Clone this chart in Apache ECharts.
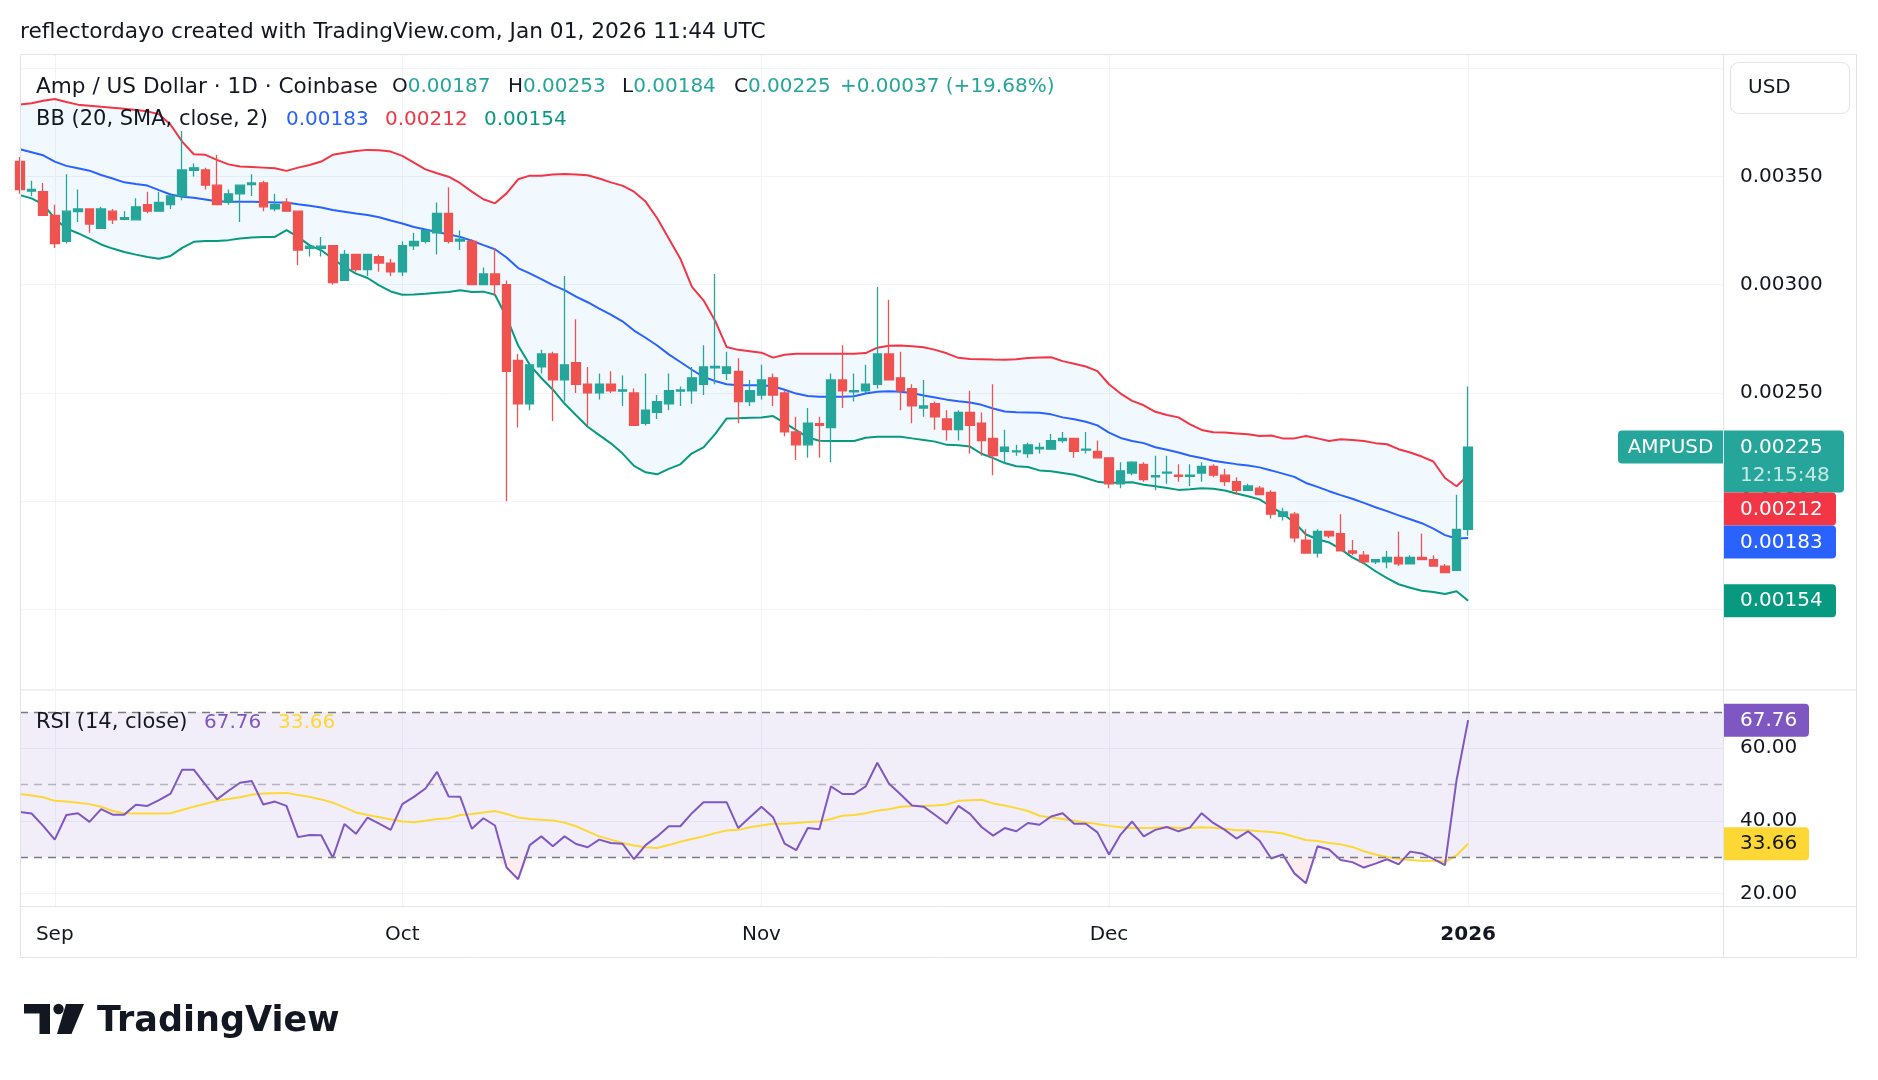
<!DOCTYPE html>
<html>
<head>
<meta charset="utf-8">
<title>AMPUSD 1D</title>
<script src="https://cdn.jsdelivr.net/npm/echarts@6/dist/echarts.min.js"></script>
<style>
  html, body { margin: 0; padding: 0; background: #fff; }
  #chart { width: 1878px; height: 1080px; }
</style>
</head>
<body>
<div id="chart"></div>
<script>
// daily bars from Aug 29 2025, axis runs a few weeks past the last bar
const firstDay = Date.UTC(2025, 7, 29)
const dayCount = 148
const dates = []
for (let i = 0; i < dayCount; i++) {
  dates.push(new Date(firstDay + i * 86400000).toISOString().slice(0, 10))
}
const monthNames = ['Jan', 'Feb', 'Mar', 'Apr', 'May', 'Jun', 'Jul', 'Aug', 'Sep', 'Oct', 'Nov', 'Dec']

// [open, close, low, high]
const candles = [
  [0.00357, 0.00344, 0.00342, 0.00359], [0.003432, 0.00344, 0.00341, 0.00348], [0.00343, 0.00332, 0.00332, 0.00347],
  [0.00332, 0.00319, 0.00317, 0.00337], [0.0032, 0.00334, 0.00319, 0.00351], [0.003338, 0.00335, 0.00329, 0.00344],
  [0.00335, 0.00328, 0.00324, 0.003352], [0.00326, 0.00335, 0.00326, 0.00336], [0.00334, 0.0033, 0.00328, 0.00335],
  [0.003302, 0.00331, 0.003298, 0.00334], [0.0033, 0.00336, 0.0033, 0.0034], [0.00337, 0.00334, 0.00333, 0.00343],
  [0.00334, 0.00338, 0.00334, 0.00343], [0.00337, 0.00341, 0.00335, 0.003412], [0.00341, 0.00353, 0.00339, 0.00371],
  [0.003528, 0.00354, 0.0035, 0.00356], [0.00353, 0.00346, 0.00344, 0.00354], [0.00346, 0.00337, 0.00337, 0.0036],
  [0.00338, 0.00342, 0.00337, 0.00344], [0.00342, 0.00346, 0.00329, 0.003462], [0.003462, 0.00347, 0.00341, 0.00351],
  [0.00347, 0.00336, 0.00334, 0.00348], [0.00335, 0.00337, 0.00334, 0.00342], [0.00338, 0.00334, 0.00334, 0.0034],
  [0.00334, 0.00316, 0.00309, 0.003342], [0.003168, 0.003178, 0.00313, 0.00318], [0.003168, 0.003178, 0.00313, 0.00322],
  [0.00318, 0.00301, 0.003, 0.003182], [0.00302, 0.00314, 0.00302, 0.00316], [0.00314, 0.00307, 0.00306, 0.003142],
  [0.00307, 0.00314, 0.00304, 0.003142], [0.00313, 0.0031, 0.00306, 0.00314], [0.0031, 0.00306, 0.00304, 0.00312],
  [0.00306, 0.00318, 0.00304, 0.0032], [0.00318, 0.0032, 0.00316, 0.00324], [0.0032, 0.00325, 0.00319, 0.003252],
  [0.00324, 0.00333, 0.00314, 0.00338], [0.00333, 0.0032, 0.00319, 0.00345], [0.003202, 0.00321, 0.00316, 0.00325],
  [0.0032, 0.003, 0.003, 0.00321], [0.003, 0.00305, 0.003, 0.00308], [0.00305, 0.003, 0.00295, 0.00317],
  [0.003, 0.0026, 0.002, 0.00302], [0.00265, 0.00245, 0.00234, 0.00268], [0.00245, 0.00263, 0.00242, 0.00264],
  [0.00262, 0.00268, 0.00259, 0.0027], [0.00268, 0.00256, 0.00237, 0.00269], [0.00256, 0.00263, 0.00246, 0.00304],
  [0.00264, 0.00254, 0.0025, 0.00284], [0.00254, 0.0025, 0.00235, 0.00262], [0.0025, 0.00254, 0.00247, 0.00259],
  [0.00254, 0.00251, 0.0025, 0.0026], [0.002508, 0.002514, 0.00244, 0.00258], [0.0025, 0.00235, 0.00235, 0.00252],
  [0.00236, 0.00242, 0.00235, 0.00259], [0.00241, 0.00246, 0.00238, 0.00249], [0.00245, 0.00251, 0.00242, 0.00259],
  [0.002508, 0.002514, 0.00244, 0.00253], [0.00251, 0.00257, 0.00245, 0.00262], [0.00254, 0.00262, 0.00249, 0.00272],
  [0.002616, 0.002622, 0.00254, 0.00305], [0.00259, 0.00262, 0.00256, 0.00269], [0.0026, 0.00246, 0.00236, 0.00266],
  [0.00246, 0.00251, 0.00244, 0.00256], [0.00249, 0.00256, 0.00247, 0.00263], [0.00257, 0.00249, 0.00244, 0.00259],
  [0.0025, 0.00232, 0.0023, 0.00251], [0.00232, 0.00226, 0.00219, 0.00239], [0.00226, 0.00236, 0.0022, 0.00243],
  [0.002358, 0.00235, 0.0022, 0.00239], [0.00234, 0.00256, 0.00218, 0.00259], [0.00256, 0.00251, 0.00243, 0.00272],
  [0.002505, 0.00251, 0.00246, 0.00259], [0.00251, 0.00254, 0.0025, 0.00263], [0.00254, 0.00268, 0.00252, 0.00299],
  [0.00268, 0.00256, 0.00256, 0.00293], [0.00257, 0.00251, 0.00242, 0.00269], [0.00252, 0.00244, 0.00236, 0.00254],
  [0.00243, 0.00244, 0.00239, 0.00256], [0.00245, 0.00239, 0.00233, 0.00246], [0.00238, 0.00233, 0.00228, 0.00242],
  [0.00233, 0.00241, 0.00228, 0.00242], [0.00241, 0.00235, 0.00222, 0.00251], [0.00236, 0.00228, 0.00221, 0.00241],
  [0.00229, 0.00221, 0.00212, 0.00254], [0.00223, 0.00225, 0.00217, 0.00233], [0.002228, 0.002232, 0.00221, 0.00226],
  [0.00222, 0.00226, 0.0022, 0.00227], [0.002242, 0.002248, 0.00222, 0.00227], [0.00224, 0.00228, 0.00224, 0.00231],
  [0.00228, 0.00229, 0.00227, 0.00232], [0.00229, 0.00223, 0.0022, 0.002292], [0.002236, 0.00224, 0.00222, 0.00232],
  [0.00223, 0.0022, 0.0022, 0.00228], [0.0022, 0.00208, 0.00206, 0.002202], [0.00208, 0.00214, 0.00206, 0.00218],
  [0.00213, 0.00218, 0.00212, 0.002184], [0.00217, 0.0021, 0.00209, 0.00218], [0.002112, 0.002118, 0.00205, 0.00221],
  [0.00213, 0.002134, 0.00208, 0.00221], [0.00212, 0.002114, 0.00209, 0.00217], [0.002114, 0.00212, 0.00207, 0.00217],
  [0.00213, 0.00216, 0.00209, 0.00218], [0.00216, 0.00212, 0.00211, 0.00217], [0.00212, 0.00209, 0.00207, 0.00215],
  [0.00209, 0.00205, 0.00203, 0.00211], [0.00205, 0.00207, 0.00205, 0.00208], [0.00206, 0.00203, 0.00203, 0.00207],
  [0.00204, 0.00194, 0.00192, 0.00205], [0.00193, 0.00195, 0.00191, 0.00197], [0.00194, 0.00183, 0.00181, 0.00195],
  [0.00182, 0.00176, 0.00176, 0.00187], [0.00176, 0.00186, 0.00174, 0.00187], [0.00186, 0.00184, 0.00183, 0.001862],
  [0.00185, 0.00177, 0.00177, 0.00194], [0.00177, 0.00176, 0.00175, 0.00182], [0.00175, 0.00172, 0.00171, 0.00177],
  [0.00172, 0.00173, 0.00171, 0.001732], [0.00172, 0.00174, 0.00169, 0.00177], [0.00174, 0.00171, 0.0017, 0.00186],
  [0.00171, 0.00174, 0.00171, 0.00175], [0.00174, 0.00173, 0.00173, 0.00185], [0.00173, 0.0017, 0.0017, 0.00175],
  [0.0017, 0.00167, 0.00167, 0.00171], [0.00168, 0.00187, 0.00168, 0.00203], [0.00187, 0.00225, 0.00184, 0.00253]
]

const bbUpper = [
  0.003833, 0.003838, 0.00385, 0.003858, 0.003844, 0.003832, 0.003827, 0.003822, 0.003818, 0.003813,
  0.003807, 0.003801, 0.003788, 0.003739, 0.003661, 0.003603, 0.0036, 0.003577, 0.003556, 0.003546,
  0.003544, 0.003541, 0.003538, 0.003526, 0.003541, 0.003553, 0.003569, 0.0036, 0.00361, 0.003618,
  0.003623, 0.003621, 0.003615, 0.003595, 0.003564, 0.003533, 0.003515, 0.003499, 0.003469, 0.00343,
  0.003395, 0.003376, 0.003422, 0.003487, 0.003504, 0.003504, 0.003509, 0.003512, 0.003509, 0.003506,
  0.003491, 0.003473, 0.003458, 0.00343, 0.003384, 0.003307, 0.003214, 0.00312, 0.00299, 0.002928,
  0.002834, 0.002712, 0.002699, 0.002693, 0.002686, 0.002663, 0.002676, 0.002681, 0.002681, 0.002681,
  0.002681, 0.002681, 0.002681, 0.002684, 0.002709, 0.002718, 0.002719, 0.002716, 0.002711, 0.002699,
  0.002683, 0.002662, 0.002657, 0.002656, 0.002654, 0.002653, 0.002656, 0.002661, 0.002664, 0.002665,
  0.002647, 0.002635, 0.002622, 0.002601, 0.00254, 0.002497, 0.002463, 0.002443, 0.002413, 0.002398,
  0.002387, 0.002355, 0.002329, 0.002318, 0.002317, 0.002313, 0.002309, 0.002301, 0.002303, 0.00229,
  0.00229, 0.002301, 0.00229, 0.002278, 0.002286, 0.002283, 0.002278, 0.002268, 0.002263, 0.00224,
  0.002225, 0.002206, 0.002183, 0.002107, 0.002069, 0.00212
]
const bbBasis = [
  0.003626, 0.003612, 0.003598, 0.003569, 0.003549, 0.003538, 0.003527, 0.003507, 0.003491, 0.003473,
  0.003465, 0.003458, 0.003437, 0.003417, 0.003406, 0.003402, 0.003394, 0.003386, 0.003383, 0.003383,
  0.003383, 0.003382, 0.00338, 0.00338, 0.003372, 0.003365, 0.003357, 0.003345, 0.003337, 0.003329,
  0.003322, 0.003312, 0.003297, 0.003283, 0.003267, 0.003255, 0.003244, 0.003232, 0.003221, 0.003203,
  0.003183, 0.003164, 0.003126, 0.003077, 0.003052, 0.003026, 0.002998, 0.002975, 0.002945, 0.002919,
  0.00289, 0.002862, 0.002831, 0.002788, 0.002755, 0.002719, 0.002678, 0.002643, 0.002607, 0.002574,
  0.002555, 0.00254, 0.002535, 0.002535, 0.002535, 0.002531, 0.002515, 0.002497, 0.002486, 0.002482,
  0.002482, 0.002482, 0.002485, 0.002497, 0.002505, 0.002508, 0.002505, 0.0025, 0.002488, 0.002479,
  0.002469, 0.002462, 0.002456, 0.002445, 0.002428, 0.002414, 0.002411, 0.00241, 0.002408, 0.002401,
  0.002387, 0.002378, 0.002367, 0.00235, 0.002317, 0.002292, 0.002278, 0.002268, 0.002249, 0.002237,
  0.002225, 0.00221, 0.002199, 0.002187, 0.002179, 0.002171, 0.002165, 0.002156, 0.002142, 0.002127,
  0.002112, 0.002084, 0.002066, 0.002046, 0.002028, 0.002011, 0.001992, 0.001972, 0.001954, 0.001934,
  0.001916, 0.001898, 0.001873, 0.001843, 0.001827, 0.00183
]
const bbLower = [
  0.003414, 0.003399, 0.003371, 0.003306, 0.00326, 0.003238, 0.003213, 0.003186, 0.003167, 0.003151,
  0.003139, 0.003128, 0.00312, 0.003133, 0.00317, 0.003198, 0.003202, 0.003202, 0.003206, 0.003213,
  0.003218, 0.003221, 0.003221, 0.003252, 0.003221, 0.003182, 0.003159, 0.00312, 0.003082, 0.003051,
  0.003031, 0.002997, 0.002969, 0.002954, 0.002955, 0.002958, 0.002963, 0.002966, 0.002974, 0.002966,
  0.002968, 0.002954, 0.00285, 0.002719, 0.00263, 0.002569, 0.002515, 0.002451, 0.002397, 0.002344,
  0.002305, 0.002267, 0.002221, 0.002163, 0.002133, 0.002124, 0.002149, 0.00217, 0.002221, 0.002248,
  0.00231, 0.002382, 0.002383, 0.002385, 0.002387, 0.002393, 0.002362, 0.002328, 0.002294, 0.002279,
  0.002278, 0.002278, 0.002278, 0.002293, 0.002298, 0.002298, 0.002298, 0.00229, 0.002283, 0.002275,
  0.00226, 0.002258, 0.002252, 0.002219, 0.002199, 0.002176, 0.002161, 0.002158, 0.002142, 0.002138,
  0.00213, 0.002122, 0.002107, 0.00209, 0.002084, 0.002086, 0.002087, 0.002076, 0.002069, 0.002061,
  0.002052, 0.002055, 0.00206, 0.002057, 0.002049, 0.002035, 0.002023, 0.002008, 0.001974, 0.001942,
  0.001901, 0.001846, 0.001824, 0.001809, 0.001778, 0.00174, 0.001713, 0.001676, 0.001644, 0.001616,
  0.0016, 0.001586, 0.00158, 0.001571, 0.001584, 0.00154
]

const rsiLine = [
  42.4, 42.0, 38.6, 34.8, 41.6, 42.1, 39.7, 43.2, 41.7, 41.7,
  44.4, 44.1, 45.7, 47.5, 54.1, 54.1, 50.0, 45.9, 48.3, 50.5,
  51.0, 44.5, 45.3, 44.1, 35.5, 36.1, 36.0, 29.8, 39.1, 36.4,
  40.9, 39.2, 37.5, 44.6, 46.6, 48.9, 53.5, 46.7, 46.6, 37.8,
  40.7, 38.7, 27.1, 23.9, 33.3, 35.7, 33.0, 35.7, 33.6, 32.7,
  34.8, 33.9, 33.7, 29.4, 33.3, 35.7, 38.5, 38.5, 42.1, 45.1,
  45.1, 45.1, 38.0, 41.0, 43.9, 41.0, 33.7, 31.9, 38.0, 37.7,
  49.5, 47.4, 47.4, 49.5, 56.0, 50.3, 47.3, 44.2, 43.9, 41.6,
  39.2, 44.1, 41.9, 38.3, 35.9, 38.0, 37.1, 39.4, 38.9, 41.2,
  42.1, 39.2, 39.2, 36.8, 30.7, 36.2, 39.8, 35.7, 37.5, 38.3,
  37.1, 38.2, 42.1, 39.4, 37.5, 35.1, 37.1, 34.5, 29.6, 30.7,
  25.5, 22.8, 33.0, 32.1, 29.2, 28.6, 27.1, 28.2, 29.4, 28.0,
  31.5, 31.0, 29.5, 27.8, 51.2, 67.76
]
const rsiMa = [
  47.4, 47.0, 46.5, 45.5, 45.3, 45.0, 44.6, 43.9, 42.7, 42.1,
  42.0, 42.0, 42.0, 42.1, 43.0, 43.9, 44.7, 45.5, 46.0, 46.5,
  47.2, 47.5, 47.6, 47.7, 47.1, 46.6, 45.9, 45.0, 43.7, 42.3,
  41.6, 41.0, 40.4, 39.8, 39.6, 40.0, 40.5, 40.7, 41.6, 41.9,
  42.3, 42.7, 41.9, 40.9, 40.5, 40.3, 40.1, 39.5, 38.5, 37.1,
  35.7, 34.8, 33.9, 33.2, 32.7, 32.5, 33.3, 34.2, 35.0, 35.7,
  36.6, 37.3, 37.5, 38.2, 38.7, 39.2, 39.2, 39.4, 39.7, 39.8,
  40.5, 41.4, 41.6, 42.1, 42.8, 43.2, 43.9, 44.1, 44.1, 44.2,
  44.5, 45.5, 45.7, 45.8, 44.8, 44.2, 43.5, 42.7, 41.4, 40.9,
  40.5, 40.0, 39.5, 39.1, 38.6, 38.2, 38.0, 38.0, 38.1, 38.3,
  38.0, 38.0, 38.2, 38.1, 37.8, 37.4, 37.4, 37.1, 36.9, 36.5,
  35.6, 34.7, 34.4, 33.9, 33.5, 32.8, 31.6, 30.7, 30.0, 29.5,
  29.2, 29.0, 29.0, 28.7, 30.5, 33.66
]

const priceGridTicks = [0.0015, 0.002, 0.0025, 0.003, 0.0035, 0.004]
const priceLabelTicks = [0.0015, 0.002, 0.0025, 0.003, 0.0035]
const rsiTicks = [20, 40, 60]
const rsiLevels = [70, 50, 30]

const font = '"DejaVu Sans", sans-serif'
const textColor = '#131722'
const gridColor = '#f0f3fa'
const frameColor = '#e0e3eb'
const upColor = '#26a69a'
const downColor = '#ef5350'

const isMonthStart = (idx, value) => value.slice(8) === '01'
const monthLabel = value => {
  const m = +value.slice(5, 7)
  return m === 1 ? '{y|' + value.slice(0, 4) + '}' : monthNames[m - 1]
}

const chart = echarts.init(document.getElementById('chart'))

const xAxisBase = {
  type: 'category',
  data: dates,
  boundaryGap: false,
  axisLine: { show: false },
  axisTick: { show: false },
  splitLine: { show: true, interval: isMonthStart, lineStyle: { color: gridColor, width: 1 } }
}

chart.setOption({
  animation: false,
  backgroundColor: '#ffffff',
  grid: [
    { left: 20, right: 155, top: 54, height: 635 },
    { left: 20, right: 155, top: 691, height: 215 }
  ],
  xAxis: [
    Object.assign({}, xAxisBase, { gridIndex: 0, axisLabel: { show: false } }),
    Object.assign({}, xAxisBase, {
      gridIndex: 1,
      axisLabel: {
        interval: isMonthStart,
        formatter: monthLabel,
        color: textColor,
        fontSize: 20,
        fontFamily: font,
        margin: 19,
        rich: { y: { fontWeight: 'bold', fontSize: 20, fontFamily: font, color: textColor } }
      }
    })
  ],
  yAxis: [
    {
      type: 'value', gridIndex: 0, position: 'right',
      min: 0.001132, max: 0.004066,
      axisLine: { show: false },
      axisTick: { show: false, customValues: priceGridTicks },
      axisLabel: {
        customValues: priceLabelTicks, formatter: v => v.toFixed(5),
        color: textColor, fontSize: 20, fontFamily: font, margin: 17, align: 'left',
        padding: [6, 0, 0, 0]
      },
      splitLine: { lineStyle: { color: gridColor, width: 1 } }
    },
    {
      type: 'value', gridIndex: 1, position: 'right',
      min: 16.5, max: 75.8,
      axisLine: { show: false },
      axisTick: { show: false, customValues: rsiTicks },
      axisLabel: {
        customValues: rsiTicks, formatter: v => v.toFixed(2),
        color: textColor, fontSize: 20, fontFamily: font, margin: 17, align: 'left',
        padding: [6, 0, 0, 0]
      },
      splitLine: { lineStyle: { color: gridColor, width: 1 } }
    }
  ],
  series: [
    {
      name: 'bbBase', type: 'line', data: bbLower, stack: 'bb', symbol: 'none',
      lineStyle: { opacity: 0 }, silent: true, z: 1
    },
    {
      name: 'bbFill', type: 'line', data: bbUpper.map((u, i) => +(u - bbLower[i]).toFixed(6)),
      stack: 'bb', symbol: 'none', lineStyle: { opacity: 0 },
      areaStyle: { color: 'rgba(33,150,243,0.06)', opacity: 1 }, silent: true, z: 1
    },
    { name: 'Upper', type: 'line', data: bbUpper, symbol: 'none', lineStyle: { color: '#f23645', width: 2 }, z: 3 },
    { name: 'Basis', type: 'line', data: bbBasis, symbol: 'none', lineStyle: { color: '#2962ff', width: 2 }, z: 3 },
    { name: 'Lower', type: 'line', data: bbLower, symbol: 'none', lineStyle: { color: '#089981', width: 2 }, z: 3 },
    {
      name: 'AMPUSD', type: 'candlestick', data: candles, barWidth: 9, z: 5,
      itemStyle: { color: upColor, color0: downColor, borderColor: upColor, borderColor0: downColor, borderWidth: 1.3 }
    },
    {
      name: 'oversold', type: 'line', xAxisIndex: 1, yAxisIndex: 1,
      data: rsiLine.map(v => Math.min(v, 30)), symbol: 'none',
      lineStyle: { width: 0 },
      areaStyle: { origin: 30, color: 'rgba(242,54,69,0.13)' }, silent: true, z: 2
    },
    {
      name: 'RSI MA', type: 'line', xAxisIndex: 1, yAxisIndex: 1, data: rsiMa, symbol: 'none',
      lineStyle: { color: '#fdd835', width: 2 }, z: 3
    },
    {
      name: 'RSI', type: 'line', xAxisIndex: 1, yAxisIndex: 1, data: rsiLine, symbol: 'none',
      lineStyle: { color: '#7e57c2', width: 2 }, z: 4,
      markArea: {
        silent: true,
        itemStyle: { color: 'rgba(126,87,194,0.1)' },
        data: [[{ yAxis: 30 }, { yAxis: 70 }]]
      },
      markLine: {
        silent: true, symbol: 'none', label: { show: false },
        data: rsiLevels.map(v => ({
          yAxis: v,
          lineStyle: { color: v === 50 ? 'rgba(120,123,134,0.5)' : '#787b86', type: [8, 6], width: 1.3 }
        }))
      }
    }
  ]
})

// overlays: legends, frame and the price tags on the right scale
function text(x, y, str, fill, size, weight, align) {
  return {
    type: 'text', x, y: y + 2, z: 100, silent: true,
    style: {
      text: str, fill: fill,
      font: (weight || 'normal') + ' ' + size + 'px ' + font,
      textAlign: align || 'left', textVerticalAlign: 'middle'
    }
  }
}
function box(x, y, w, h, fill, r, stroke) {
  return {
    type: 'rect', z: 99, silent: true,
    shape: { x, y, width: w, height: h, r: r || 0 },
    style: { fill: fill, stroke: stroke || null, lineWidth: 1 }
  }
}
function hline(x1, x2, y) {
  return { type: 'line', z: 98, silent: true, shape: { x1, y1: y, x2, y2: y }, style: { stroke: frameColor, lineWidth: 1 } }
}
function vline(x, y1, y2) {
  return { type: 'line', z: 98, silent: true, shape: { x1: x, y1, x2: x, y2 }, style: { stroke: frameColor, lineWidth: 1 } }
}

const ctx = document.createElement('canvas').getContext('2d')
function widthOf(str, size) {
  ctx.font = size + 'px ' + font
  return ctx.measureText(str).width
}
function pair(x, y, key, val, valColor) {
  return [text(x, y, key, textColor, 20), text(x + widthOf(key, 20), y, val, valColor, 20)]
}

const last = candles.length - 1
const yPrice = v => chart.convertToPixel({ yAxisIndex: 0 }, v)
const yRsi = v => chart.convertToPixel({ yAxisIndex: 1 }, v)

const g = []
// frame
g.push({ type: 'rect', z: 98, silent: true, shape: { x: 20.5, y: 54.5, width: 1836, height: 903 }, style: { fill: null, stroke: frameColor, lineWidth: 1 } })
g.push(vline(1723.5, 54, 958))
g.push(hline(20, 1857, 690))
g.push(hline(20, 1857, 906.5))

// header
g.push(text(20, 30, 'reflectordayo created with TradingView.com, Jan 01, 2026 11:44 UTC', textColor, 21.7))

// legend row 1
const vUp = upColor
g.push(text(36, 85, 'Amp / US Dollar · 1D · Coinbase', textColor, 21.6))
g.push(...pair(392, 85, 'O', '0.00187', vUp))
g.push(...pair(508, 85, 'H', '0.00253', vUp))
g.push(...pair(622, 85, 'L', '0.00184', vUp))
g.push(...pair(734, 85, 'C', '0.00225', vUp))
g.push(text(840, 85, '+0.00037 (+19.68%)', vUp, 20))

// legend row 2
g.push(text(36, 118, 'BB (20, SMA, close, 2)', textColor, 21))
g.push(text(286, 118, bbBasis[last].toFixed(5), '#2962ff', 20))
g.push(text(385, 118, bbUpper[last].toFixed(5), '#f23645', 20))
g.push(text(484, 118, bbLower[last].toFixed(5), '#089981', 20))

// RSI legend
g.push(text(36, 721, 'RSI (14, close)', textColor, 21))
g.push(text(204, 721, rsiLine[last].toFixed(2), '#7e57c2', 20))
g.push(text(278, 721, rsiMa[last].toFixed(2), '#fdd835', 20))

// currency box
g.push(box(1730.5, 62.5, 119, 51, '#ffffff', 8, frameColor))
g.push(text(1748, 86, 'USD', textColor, 20))

// price tags with simple stacking so they don't overlap
const tagX = 1724
const yc = yPrice(candles[last][1])
const priceTop = yc - 16.5
g.push(box(1618, priceTop, 105, 33, upColor, [4, 0, 0, 4]))
g.push(text(1670.5, priceTop + 15, 'AMPUSD', '#ffffff', 20, 'normal', 'center'))
g.push(box(tagX, priceTop, 120, 62, upColor, [0, 4, 4, 0]))
g.push(text(1740, priceTop + 15, candles[last][1].toFixed(5), '#ffffff', 20))
g.push(text(1740, priceTop + 43, '12:15:48', 'rgba(255,255,255,0.75)', 20))
let bottom = priceTop + 62
;[[bbUpper[last], '#f23645'], [bbBasis[last], '#2962ff'], [bbLower[last], '#089981']].forEach(([v, c]) => {
  const top = Math.max(yPrice(v) - 16.5, bottom)
  g.push(box(tagX, top, 112, 33, c, [0, 4, 4, 0]))
  g.push(text(1740, top + 15, v.toFixed(5), '#ffffff', 20))
  bottom = top + 33
})

// RSI tags
const yr = yRsi(rsiLine[last])
g.push(box(tagX, yr - 16.5, 85, 33, '#7e57c2', [0, 4, 4, 0]))
g.push(text(1740, yr - 1.5, rsiLine[last].toFixed(2), '#ffffff', 20))
const ym = yRsi(rsiMa[last])
g.push(box(tagX, ym - 16.5, 85, 33, '#fdd835', [0, 4, 4, 0]))
g.push(text(1740, ym - 1.5, rsiMa[last].toFixed(2), textColor, 20))

// TradingView logo
g.push({ type: 'rect', z: 100, silent: true, shape: { x: 24, y: 1004, width: 26, height: 9.5 }, style: { fill: '#131722' } })
g.push({ type: 'rect', z: 100, silent: true, shape: { x: 39.5, y: 1004, width: 10.5, height: 30 }, style: { fill: '#131722' } })
g.push({ type: 'circle', z: 100, silent: true, shape: { cx: 58.5, cy: 1009, r: 5.2 }, style: { fill: '#131722' } })
g.push({ type: 'polygon', z: 100, silent: true, shape: { points: [[66, 1004], [84, 1004], [71.5, 1034], [57, 1034]] }, style: { fill: '#131722' } })
g.push(text(97, 1020, 'TradingView', '#131722', 35, 'bold'))

chart.setOption({ graphic: g })
</script>
</body>
</html>
